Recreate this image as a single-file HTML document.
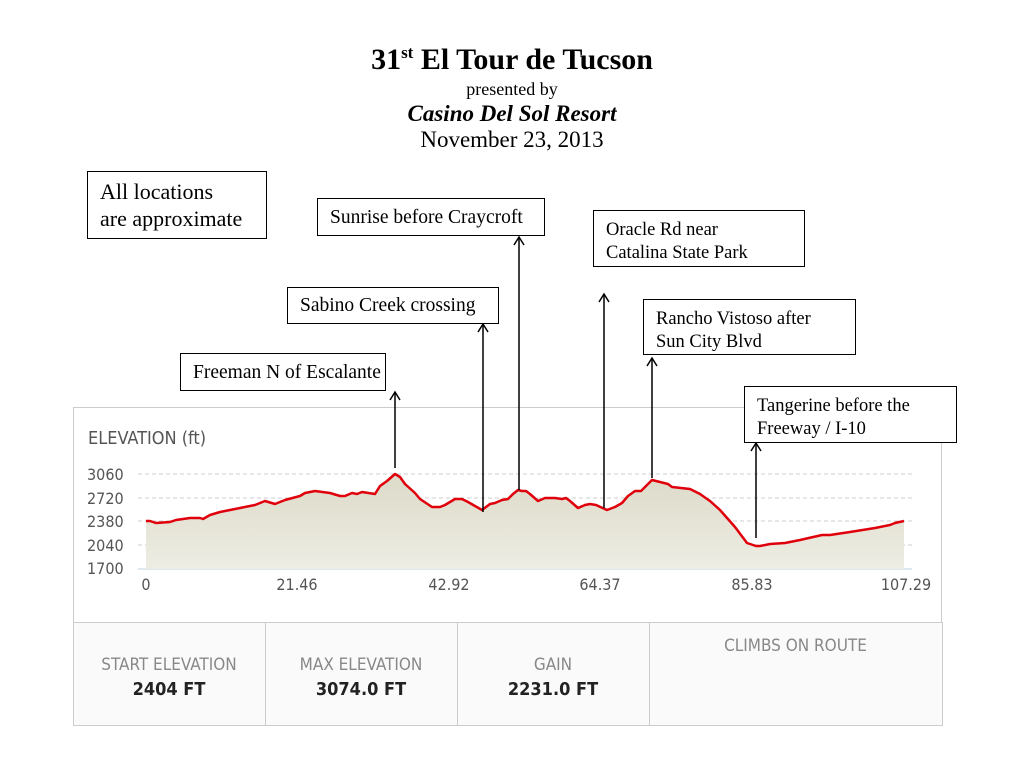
<!DOCTYPE html>
<html><head><meta charset="utf-8"><style>
body{margin:0;width:1024px;height:768px;background:#fff;overflow:hidden;position:relative;font-family:"Liberation Serif",serif}
.t{position:absolute;left:0;width:1024px;text-align:center;color:#000;white-space:nowrap}
.box{position:absolute;border:1.5px solid #000;background:#fff;font-family:"Liberation Serif",serif;color:#000;box-sizing:border-box;white-space:nowrap;overflow:hidden}
.s{position:absolute;font-family:"DejaVu Sans Condensed","Liberation Sans",sans-serif;color:#888;font-size:17px;text-align:center}
.v{position:absolute;font-family:"DejaVu Sans Condensed","Liberation Sans",sans-serif;color:#222;font-size:18px;font-weight:bold;text-align:center}
</style></head><body>
<div class="t" style="top:43px;font-size:30px;font-weight:bold">31<sup style="font-size:17px">st</sup> El Tour de Tucson</div>
<div class="t" style="top:79px;font-size:18px">presented by</div>
<div class="t" style="top:101px;font-size:23px;font-weight:bold;font-style:italic">Casino Del Sol Resort</div>
<div class="t" style="top:127px;font-size:23px">November 23, 2013</div>

<div style="position:absolute;left:73px;top:407px;width:869px;height:318px;border:1px solid #ccc;box-sizing:border-box;background:#fff"></div>
<div style="position:absolute;left:73px;top:622px;width:870px;height:104px;border:1px solid #ccc;box-sizing:border-box;background:#fbfafa"></div>
<div style="position:absolute;left:265px;top:622px;width:1px;height:104px;background:#ccc"></div>
<div style="position:absolute;left:457px;top:622px;width:1px;height:104px;background:#ccc"></div>
<div style="position:absolute;left:649px;top:622px;width:1px;height:104px;background:#ccc"></div>
<div class="s" style="left:73px;width:192px;top:655px">START ELEVATION</div>
<div class="v" style="left:73px;width:192px;top:679px">2404 FT</div>
<div class="s" style="left:265px;width:192px;top:655px">MAX ELEVATION</div>
<div class="v" style="left:265px;width:192px;top:679px">3074.0 FT</div>
<div class="s" style="left:457px;width:192px;top:655px">GAIN</div>
<div class="v" style="left:457px;width:192px;top:679px">2231.0 FT</div>
<div class="s" style="left:649px;width:293px;top:636px">CLIMBS ON ROUTE</div>

<svg style="position:absolute;left:0;top:0" width="1024" height="768">
<defs><linearGradient id="g" x1="0" y1="0" x2="0" y2="1"><stop offset="0" stop-color="#dcdac8"/><stop offset="1" stop-color="#eeede4"/></linearGradient></defs>
<g font-family="DejaVu Sans Condensed,Liberation Sans,sans-serif" font-size="16" fill="#555">
<text x="88" y="444" font-size="18">ELEVATION (ft)</text>
<text x="87" y="480">3060</text><text x="87" y="504">2720</text><text x="87" y="527">2380</text><text x="87" y="551">2040</text><text x="87" y="574">1700</text>
<text x="146" y="590" text-anchor="middle">0</text><text x="297" y="590" text-anchor="middle">21.46</text><text x="449" y="590" text-anchor="middle">42.92</text><text x="600" y="590" text-anchor="middle">64.37</text><text x="752" y="590" text-anchor="middle">85.83</text><text x="906" y="590" text-anchor="middle">107.29</text>
</g>
<g stroke="#ccc" stroke-dasharray="4,3"><line x1="138" y1="474" x2="912" y2="474"/><line x1="138" y1="498" x2="912" y2="498"/><line x1="138" y1="521" x2="912" y2="521"/><line x1="138" y1="545" x2="912" y2="545"/></g>
<line x1="138" y1="569" x2="912" y2="569" stroke="#bcd0e0"/>
<polygon fill="url(#g)" points="146,569 146,521 150,521 156,523 170,522 176,520 190,518 200,518 203,519 210,515 220,512 230,510 240,508 255,505 265,501 275,504 285,500 300,496 305,493 315,491 330,493 340,496 345,496 352,493 357,494 362,492 375,494 380,486 387,481 395,474 400,477 405,484 415,493 420,499 432,507 440,507 445,505 455,499 462,499 468,502 475,506 482,510 490,504 495,503 502,500 508,499 513,494 518,490 522,491 526,491 530,494 538,501 545,498 555,498 562,499 566,498 570,501 578,508 585,505 590,504 596,505 607,510 615,507 622,503 628,496 635,491 641,491 652,480 660,482 668,484 672,487 690,489 700,494 710,501 720,510 735,527 747,543 756,546 760,546 770,544 785,543 800,540 822,535 830,535 850,532 875,528 890,525 895,523 904,521 904,569"/>
<polyline fill="none" stroke="#e0000c" stroke-width="2.5" stroke-linejoin="round" points="146,521 150,521 156,523 170,522 176,520 190,518 200,518 203,519 210,515 220,512 230,510 240,508 255,505 265,501 275,504 285,500 300,496 305,493 315,491 330,493 340,496 345,496 352,493 357,494 362,492 375,494 380,486 387,481 395,474 400,477 405,484 415,493 420,499 432,507 440,507 445,505 455,499 462,499 468,502 475,506 482,510 490,504 495,503 502,500 508,499 513,494 518,490 522,491 526,491 530,494 538,501 545,498 555,498 562,499 566,498 570,501 578,508 585,505 590,504 596,505 607,510 615,507 622,503 628,496 635,491 641,491 652,480 660,482 668,484 672,487 690,489 700,494 710,501 720,510 735,527 747,543 756,546 760,546 770,544 785,543 800,540 822,535 830,535 850,532 875,528 890,525 895,523 904,521"/>
<g stroke="#000" stroke-width="1.5" fill="none">
<line x1="395" y1="392" x2="395" y2="468"/><polyline points="390,400 395,392 400,400"/>
<line x1="483" y1="324" x2="483" y2="512"/><polyline points="478,332 483,324 488,332"/>
<line x1="519" y1="237" x2="519" y2="490"/><polyline points="514,245 519,237 524,245"/>
<line x1="604" y1="294" x2="604" y2="508"/><polyline points="599,302 604,294 609,302"/>
<line x1="652" y1="358" x2="652" y2="478"/><polyline points="647,366 652,358 657,366"/>
<line x1="756" y1="443" x2="756" y2="538"/><polyline points="751,451 756,443 761,451"/>
</g>
</svg>
<div class="box" style="left:87px;top:171px;width:180px;height:68px;font-size:22px;line-height:27px;padding:6px 0 0 12px">All locations<br>are approximate</div>
<div class="box" style="left:317px;top:198px;width:228px;height:38px;font-size:19.5px;padding:8px 0 0 12px">Sunrise before Craycroft</div>
<div class="box" style="left:593px;top:210px;width:212px;height:57px;font-size:18.5px;line-height:23px;padding:8px 0 0 12px">Oracle Rd near<br>Catalina State Park</div>
<div class="box" style="left:287px;top:287px;width:212px;height:37px;font-size:19.5px;padding:7px 0 0 12px">Sabino Creek crossing</div>
<div class="box" style="left:643px;top:299px;width:213px;height:56px;font-size:18.5px;line-height:23px;padding:8px 0 0 12px">Rancho Vistoso after<br>Sun City Blvd</div>
<div class="box" style="left:180px;top:353px;width:206px;height:38px;font-size:19.5px;padding:8px 0 0 12px">Freeman N of Escalante</div>
<div class="box" style="left:744px;top:386px;width:213px;height:57px;font-size:18.5px;line-height:23px;padding:8px 0 0 12px">Tangerine before the<br>Freeway / I-10</div>
</body></html>
